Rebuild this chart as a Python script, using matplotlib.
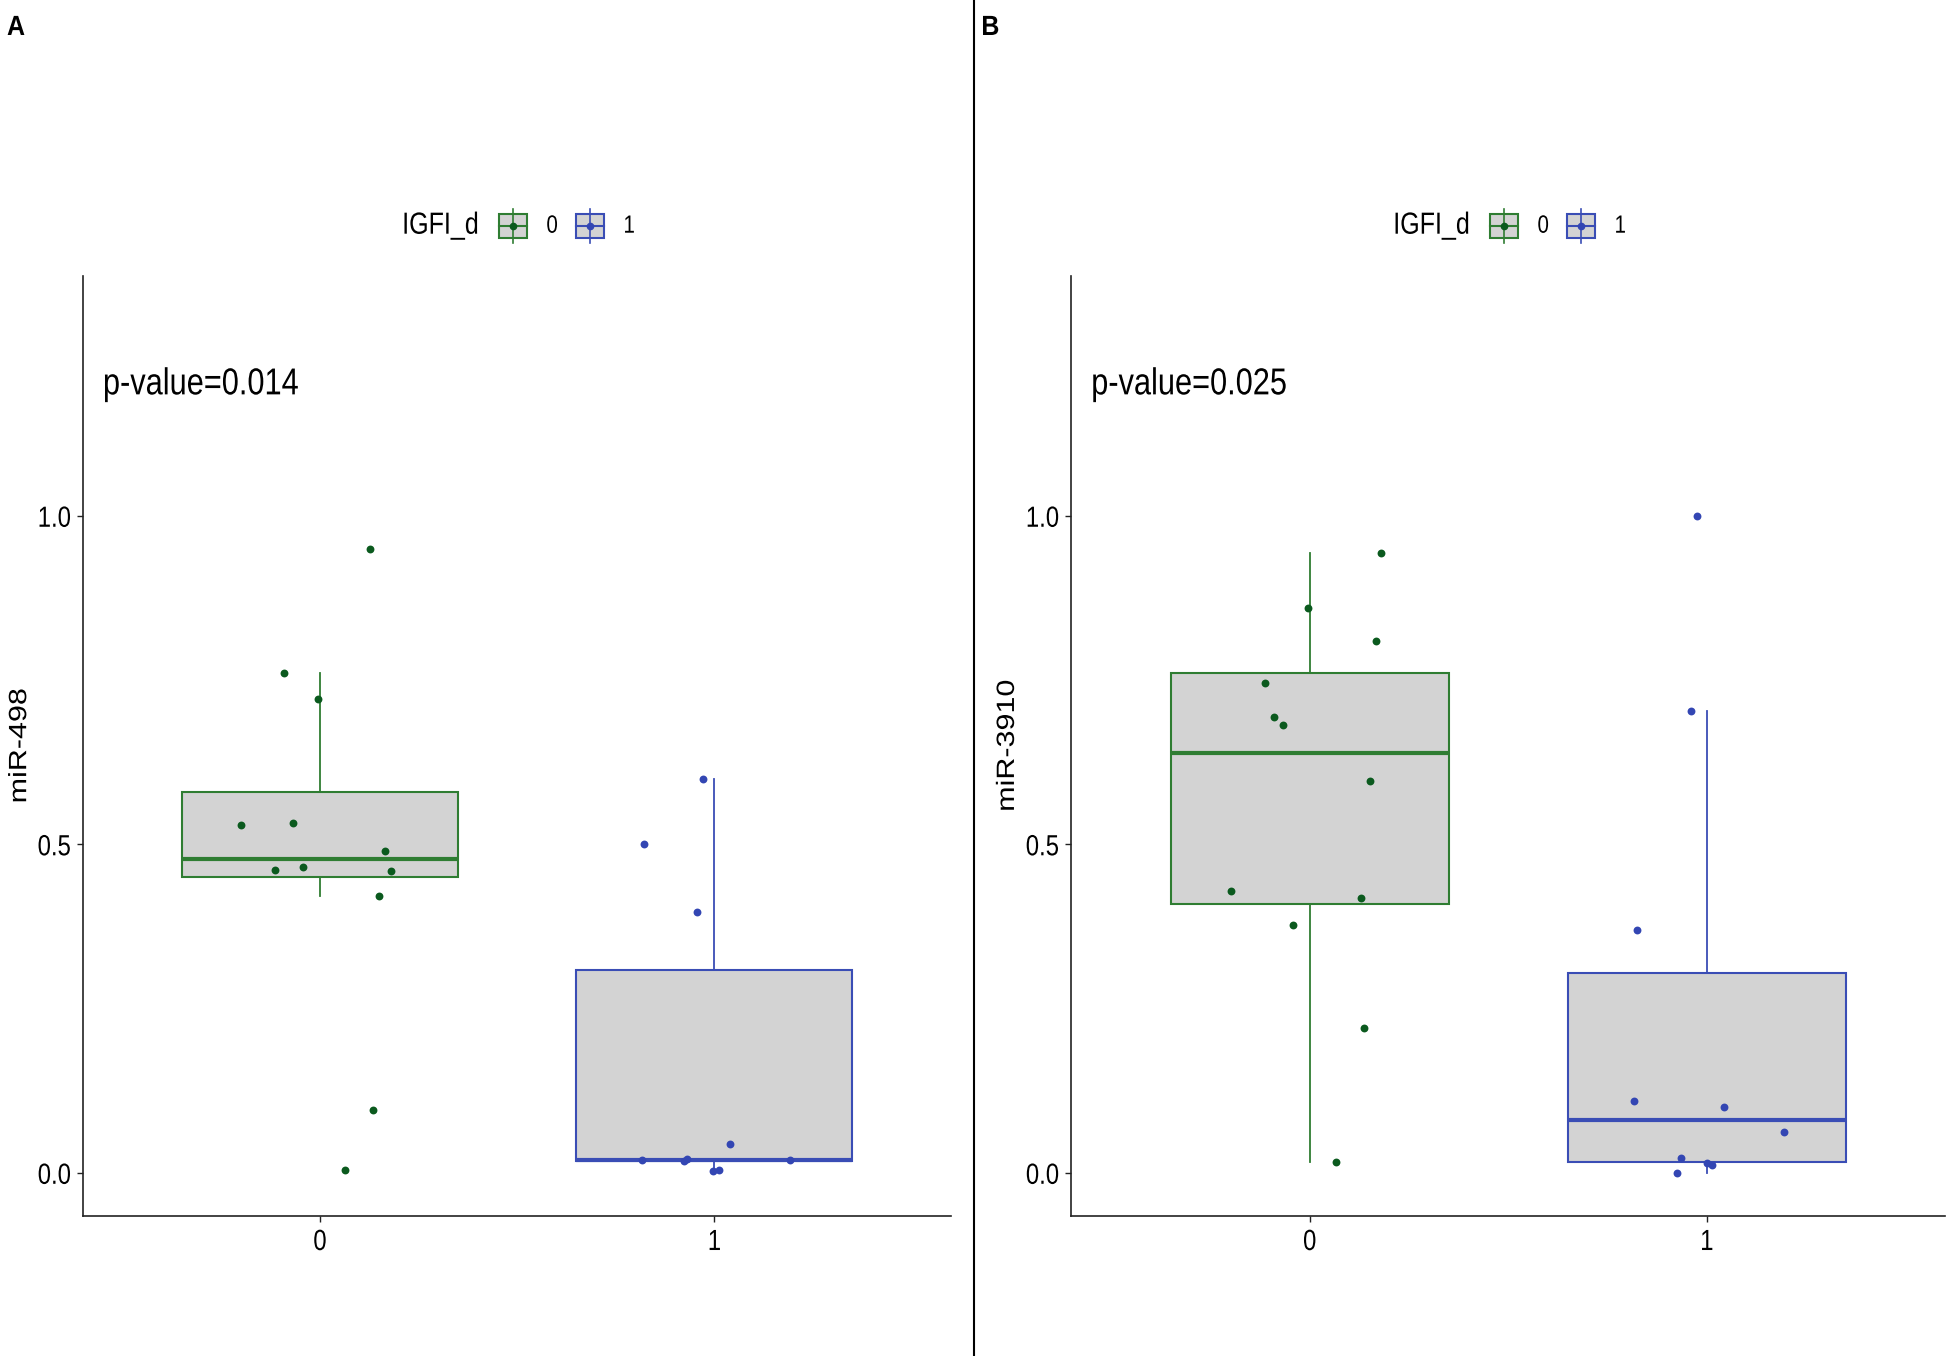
import matplotlib.pyplot as plt
from matplotlib.patches import Rectangle
from matplotlib.lines import Line2D
from matplotlib.patheffects import AbstractPathEffect
from matplotlib.transforms import Affine2D

plt.rcParams['font.family'] = ['Liberation Sans', 'DejaVu Sans']

W, H = 1949, 1356

groups = ["0", "1"]
group_colors = ["#2f7d32", "#3a4db5"]
point_colors = ["#0b5a1e", "#3346b3"]
box_fill = "#d3d3d3"

# Panel A: miR-498
a_g0 = [0.950, 0.760, 0.721, 0.529, 0.532, 0.490, 0.461, 0.466, 0.460, 0.422, 0.095, 0.004]
a_g0_jit = [0.128, -0.092, -0.006, -0.199, -0.069, 0.164, -0.114, -0.044, 0.179, 0.150, 0.135, 0.063]
a_g1 = [0.599, 0.501, 0.397, 0.044, 0.019, 0.018, 0.021, 0.003, 0.004, 0.019]
a_g1_jit = [-0.028, -0.178, -0.043, 0.040, -0.184, -0.077, -0.069, -0.003, 0.012, 0.192]

# Panel B: miR-3910
b_g0 = [0.944, 0.860, 0.810, 0.745, 0.693, 0.681, 0.597, 0.429, 0.419, 0.377, 0.220, 0.017]
b_g0_jit = [0.180, -0.005, 0.166, -0.113, -0.090, -0.068, 0.152, -0.199, 0.130, -0.043, 0.137, 0.066]
b_g1 = [1.000, 0.703, 0.369, 0.109, 0.100, 0.062, 0.022, 0.015, 0.012, 0.000]
b_g1_jit = [-0.025, -0.041, -0.176, -0.183, 0.044, 0.195, -0.065, 0.001, 0.014, -0.074]

panels = [
    {"tag": "A", "ylabel": "miR-498", "pval": "p-value=0.014",
     "data": [a_g0, a_g1], "jit": [a_g0_jit, a_g1_jit], "rect": [0.0427, 0.1036, 0.4453, 0.6929]},
    {"tag": "B", "ylabel": "miR-3910", "pval": "p-value=0.025",
     "data": [b_g0, b_g1], "jit": [b_g0_jit, b_g1_jit], "rect": [0.5497, 0.1036, 0.4483, 0.6929]},
]


class Narrow(AbstractPathEffect):
    # etire/compresse le texte (l'image d'origine est etiree verticalement)
    def __init__(self, txt, k=0.82, where="center", vertical=False):
        super().__init__()
        self.txt = txt
        self.k = k
        self.where = where
        self.vertical = vertical

    def draw_path(self, renderer, gc, tpath, affine, rgbFace=None):
        bb = self.txt.get_window_extent(renderer)
        if self.vertical:
            y0 = (bb.y0 + bb.y1) / 2
            sq = Affine2D().translate(0, -y0).scale(1, self.k).translate(0, y0)
        else:
            x0 = {"left": bb.x0, "center": (bb.x0 + bb.x1) / 2, "right": bb.x1}[self.where]
            sq = Affine2D().translate(-x0, 0).scale(self.k, 1).translate(x0, 0)
        renderer.draw_path(gc, tpath, affine + sq, rgbFace)


def narrow(t, **kw):
    t.set_path_effects([Narrow(t, **kw)])
    return t


fig = plt.figure(figsize=(W / 100, H / 100), dpi=100)


def draw_legend(cx_px, cy_px):
    fx = lambda px: px / W
    fy = lambda py: 1 - py / H
    narrow(fig.text(fx(cx_px - 115), fy(cy_px), "IGFI_d", fontsize=22, ha="left", va="center"),
           where="left")
    for i, lab in enumerate(groups):
        kx = cx_px - 4 + i * 77
        col = group_colors[i]
        fig.add_artist(Line2D([fx(kx), fx(kx)], [fy(cy_px - 17), fy(cy_px + 17)],
                              color=col, lw=1.2, transform=fig.transFigure))
        fig.add_artist(Rectangle((fx(kx - 14), fy(cy_px + 12)), 28 / W, 24 / H,
                                 facecolor=box_fill, edgecolor=col, lw=1.5,
                                 transform=fig.transFigure))
        fig.add_artist(Line2D([fx(kx - 14), fx(kx + 14)], [fy(cy_px), fy(cy_px)],
                              color=col, lw=1.5, transform=fig.transFigure))
        fig.add_artist(Line2D([fx(kx)], [fy(cy_px)], marker="o", markersize=4.5,
                              color=point_colors[i], transform=fig.transFigure))
        narrow(fig.text(fx(kx + 39), fy(cy_px), lab, fontsize=18, ha="center", va="center"))


for p in panels:
    ax = fig.add_axes(p["rect"])
    for i, vals in enumerate(p["data"]):
        col = group_colors[i]
        ax.boxplot([vals], positions=[i], widths=0.7, patch_artist=True,
                   showfliers=False, showcaps=False, whis=1.5,
                   boxprops=dict(facecolor=box_fill, edgecolor=col, linewidth=1.5),
                   medianprops=dict(color=col, linewidth=3),
                   whiskerprops=dict(color=col, linewidth=1.3))
        xs = [i + j for j in p["jit"][i]]
        ax.scatter(xs, vals, s=32, color=point_colors[i], zorder=5, linewidths=0)

    ax.set_xlim(-0.6, 1.6)
    ax.set_ylim(-0.065, 1.365)
    ax.set_xticks([0, 1])
    ax.set_xticklabels(groups)
    ax.set_yticks([0.0, 0.5, 1.0])
    ax.set_yticklabels(["0.0", "0.5", "1.0"])
    ax.tick_params(labelsize=21, length=4, width=1, pad=5, colors="#222222", labelcolor="black")
    for t in ax.get_xticklabels():
        narrow(t)
    for t in ax.get_yticklabels():
        narrow(t, where="right")
    for s in ["top", "right"]:
        ax.spines[s].set_visible(False)
    for s in ["left", "bottom"]:
        ax.spines[s].set_linewidth(1.2)
        ax.spines[s].set_color("#222222")
    ax.set_ylabel(p["ylabel"], fontsize=18)
    narrow(ax.yaxis.label, k=1.22, vertical=True)
    ax.yaxis.set_label_coords(-0.060, 0.5)
    narrow(ax.text(-0.55, 1.2, p["pval"], fontsize=27, ha="left", va="center"), where="left")

    r = p["rect"]
    cx = (r[0] + r[2] / 2) * W
    draw_legend(cx, 225.7)

    tag_x = 7 / W if p["tag"] == "A" else 0.5035
    narrow(fig.text(tag_x, 1 - 15 / H, p["tag"], fontsize=20, fontweight="bold",
                    ha="left", va="top"), k=0.9, where="left")

# trait vertical de separation
fig.add_artist(Line2D([0.5, 0.5], [0, 1], color="black", lw=1.5, transform=fig.transFigure))

fig.savefig("out.png", dpi=100)
